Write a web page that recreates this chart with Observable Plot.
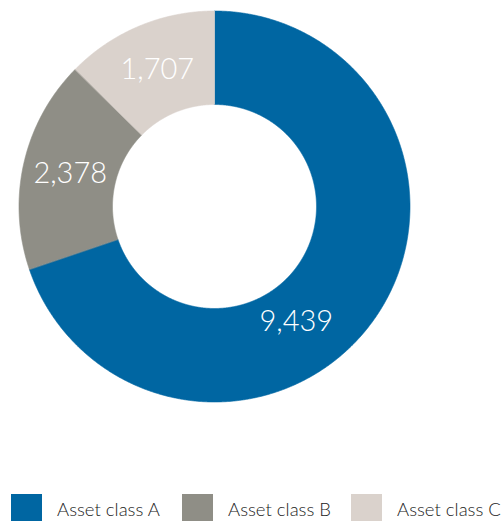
<!DOCTYPE html>
<html><head><meta charset="utf-8">
<script src="https://cdn.jsdelivr.net/npm/d3@7"></script>
<script src="https://cdn.jsdelivr.net/npm/@observablehq/plot@0.6"></script>
<style>
body{margin:0;background:#fff;font-family:Lato,"Open Sans",sans-serif;}
#chart svg{display:block}
#legend{position:relative;height:101px;overflow:hidden}
.item{position:absolute;top:74px;height:40px}
.sw{position:absolute;left:0;top:0;width:31px;height:28px}
.lab{position:absolute;left:46px;top:5px;font-size:18.5px;line-height:20px;color:#222;white-space:nowrap;font-weight:300}
</style>
</head><body>
<div id="chart"></div>
<div id="legend"></div>
<script>
const categories = ["Asset class A", "Asset class B", "Asset class C"];
const values = [9439, 2378, 1707];
const colors = ["#0066a2", "#8f8e86", "#dad2cc"];

// layout
const W = 502, H = 420;
const cx = 214, cy = 206, rOuter = 195.5, rInner = 102;
const labelShift = {"Asset class A": {da: 0.33, r: 141}};
const legendLeft = [11, 182, 351];

const pie = d3.pie().sort(null)(values);
const points = [];
const labelData = [];
pie.forEach((p, i) => {
  const name = categories[i];
  const n = Math.max(8, Math.ceil((p.endAngle - p.startAngle) / 0.005));
  for (let k = 0; k <= n; k++) {
    const a = p.startAngle + (p.endAngle - p.startAngle) * k / n;
    points.push({name, x: cx + rOuter * Math.sin(a), y: cy - rOuter * Math.cos(a)});
  }
  for (let k = n; k >= 0; k--) {
    const a = p.startAngle + (p.endAngle - p.startAngle) * k / n;
    points.push({name, x: cx + rInner * Math.sin(a), y: cy - rInner * Math.cos(a)});
  }
  const s = labelShift[name] || {da: 0, r: 148};
  const m = (p.startAngle + p.endAngle) / 2 + s.da;
  labelData.push({name, text: d3.format(",")(values[i]), x: cx + s.r * Math.sin(m), y: cy - s.r * Math.cos(m)});
});

const chart = Plot.plot({
  width: W, height: H, margin: 0,
  x: {domain: [0, W], range: [0, W], axis: null},
  y: {domain: [0, H], range: [0, H], axis: null},
  color: {domain: categories, range: colors},
  marks: [
    Plot.line(points, {x: "x", y: "y", z: "name", fill: "name", stroke: "name", strokeWidth: 0.6, curve: "linear-closed"}),
    Plot.text(labelData, {x: "x", y: "y", text: "text", fill: "white", fontSize: 29, fontWeight: 300, fontFamily: "Lato, 'Open Sans', sans-serif"})
  ]
});
document.getElementById("chart").appendChild(chart);

const legend = document.getElementById("legend");
categories.forEach((c, i) => {
  const it = document.createElement("div");
  it.className = "item";
  it.style.left = legendLeft[i] + "px";
  it.innerHTML = `<div class="sw" style="background:${colors[i]}"></div><span class="lab">${c}</span>`;
  legend.appendChild(it);
});
</script>
</body></html>
